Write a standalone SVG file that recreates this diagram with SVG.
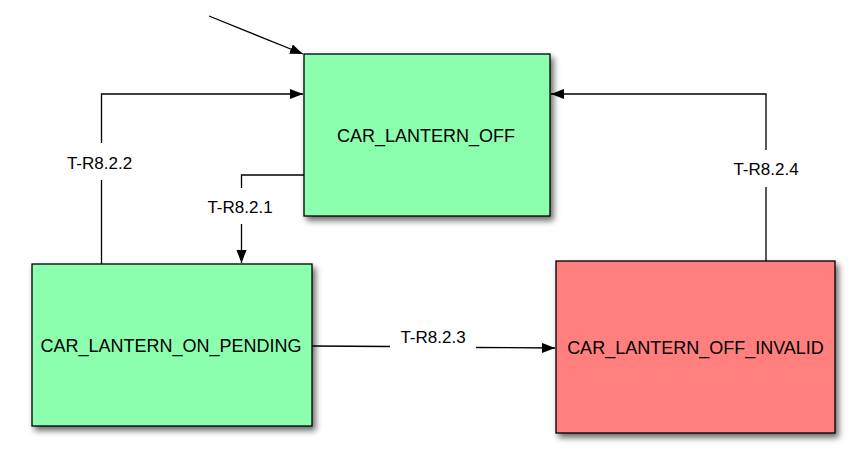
<svg xmlns="http://www.w3.org/2000/svg" width="865" height="469" viewBox="0 0 865 469">
<style>
.node{stroke:#000;stroke-width:1.3;filter:url(#sh)}
.green{fill:#8CFFAF}
.red{fill:#FF7F7F}
.nt{font-family:"Liberation Sans",Arial,sans-serif;font-size:18px;fill:#000;text-anchor:middle}
.lt{font-family:"Liberation Sans",Arial,sans-serif;font-size:17px;fill:#000;text-anchor:middle}
.c{fill:none;stroke:#000;stroke-width:1.3}
.a{marker-end:url(#ah)}
</style>
<defs>
<filter id="sh" x="-10%" y="-10%" width="130%" height="130%">
<feDropShadow dx="3" dy="4" stdDeviation="3" flood-color="#000" flood-opacity="0.6"/>
</filter>
<marker id="ah" markerUnits="userSpaceOnUse" markerWidth="14" markerHeight="11" refX="13" refY="5" orient="auto">
<path d="M0,0 L13,5 L0,10 z" fill="#000"/>
</marker>
</defs>
<g id="connectors">
<path class="c a" d="M209,16 L303,54"/>
<path class="c" d="M101.5,264 L101.5,180"/>
<path class="c a" d="M101.5,143 L101.5,94 L303,94"/>
<path class="c" d="M304,175 L241.5,175 L241.5,188"/>
<path class="c a" d="M241.5,224 L241.5,263"/>
<path class="c" d="M312,346 L390,346.5"/>
<path class="c a" d="M476,347.5 L555,348"/>
<path class="c" d="M766,261 L766,187"/>
<path class="c a" d="M766,150 L766,94 L551,94"/>
<text class="lt" x="99.5" y="169">T-R8.2.2</text>
<text class="lt" x="240" y="212.5">T-R8.2.1</text>
<text class="lt" x="433" y="342.5">T-R8.2.3</text>
<text class="lt" x="766" y="175">T-R8.2.4</text>
</g>
<g id="CAR_LANTERN_OFF">
<rect class="node green" x="304" y="54" width="246" height="162"/>
<text class="nt" x="426" y="141.5">CAR_LANTERN_OFF</text>
</g>
<g id="CAR_LANTERN_ON_PENDING">
<rect class="node green" x="32" y="264" width="280" height="162"/>
<text class="nt" x="171" y="351.5">CAR_LANTERN_ON_PENDING</text>
</g>
<g id="CAR_LANTERN_OFF_INVALID">
<rect class="node red" x="556" y="261" width="279" height="172"/>
<text class="nt" x="695.5" y="353.5">CAR_LANTERN_OFF_INVALID</text>
</g>
</svg>
